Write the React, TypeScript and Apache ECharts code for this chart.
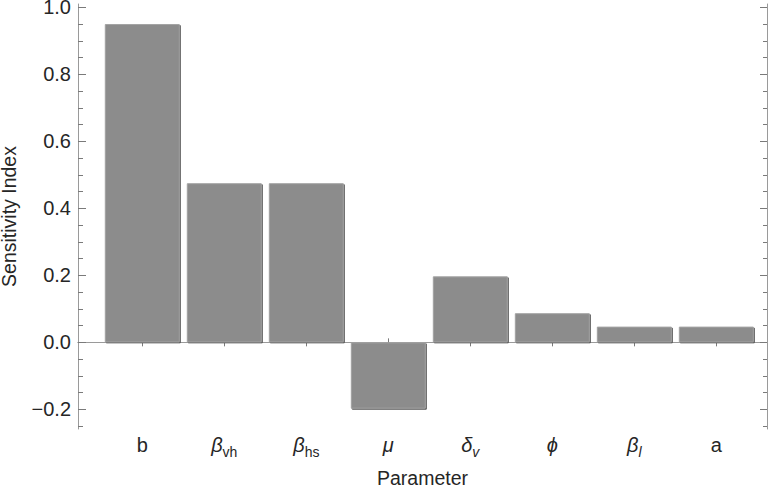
import React, { useEffect, useRef } from "react";
import * as echarts from "echarts";

// ---- data ----
const catMain = ["b", "β", "β", "μ", "δ", "ϕ", "β", "a"];
const catSub = ["", "vh", "hs", "", "v", "", "l", ""];
const catMainItalic = [false, true, true, true, true, true, true, false];
const catSubItalic = [false, false, false, false, true, false, true, false];
const values = [0.95, 0.475, 0.475, -0.198, 0.197, 0.087, 0.047, 0.047];
const yTickValues = [-0.2, 0, 0.2, 0.4, 0.6, 0.8, 1.0];
const yTickLabels = ["\u22120.2", "0.0", "0.2", "0.4", "0.6", "0.8", "1.0"];
const yMinorTicks = [
  -0.25, -0.15, -0.1, -0.05, 0.05, 0.1, 0.15, 0.25, 0.3, 0.35, 0.45, 0.5,
  0.55, 0.65, 0.7, 0.75, 0.85, 0.9, 0.95,
];
const Y_MIN = -0.2586;
const Y_MAX = 1.0098;
const X_MIN = 0.216;
const X_MAX = 8.618;

const FONT = "'Liberation Sans', Arial, sans-serif";
const LABEL_COLOR = "#262626";
const FRAME_COLOR = "#9a9a9a";
const TICK_COLOR = "#7a7a7a";

export default function App() {
  const ref = useRef<HTMLDivElement>(null);
  useEffect(() => {
    if (!ref.current) return;
    const chart = echarts.init(ref.current, undefined, { renderer: "svg" });
    const positions = values.map((_, i) => i + 1);
    const data = values.map((v, i) => [positions[i], v]);

    const xFormatter = (val: number) => {
      const i = Math.round(val) - 1;
      if (i < 0 || i >= catMain.length) return "";
      const m = `{${catMainItalic[i] ? "mi" : "m"}|${catMain[i]}}`;
      const s = catSub[i] ? `{${catSubItalic[i] ? "si" : "s"}|${catSub[i]}}` : "";
      return m + s;
    };
    const yFormatter = (val: number) => {
      const idx = yTickValues.findIndex((t) => Math.abs(t - val) < 1e-6);
      return idx >= 0 ? yTickLabels[idx] : "";
    };

    const mainStyle = {
      fontFamily: FONT,
      fontSize: 20,
      color: LABEL_COLOR,
      lineHeight: 24,
      verticalAlign: "top",
    };
    const subStyle = {
      fontFamily: FONT,
      fontSize: 14,
      color: LABEL_COLOR,
      lineHeight: 14,
      verticalAlign: "top",
      padding: [10, 0, 0, 0],
    };

    const option: any = {
      animation: false,
      backgroundColor: "#ffffff",
      grid: {
        left: 78,
        right: 1,
        top: 4,
        bottom: 62,
        containLabel: false,
        outerBoundsMode: "none",
      },
      xAxis: [
        {
          type: "value",
          position: "bottom",
          min: X_MIN,
          max: X_MAX,
          name: "Parameter",
          nameLocation: "middle",
          nameGap: 39,
          nameTextStyle: { fontFamily: FONT, fontSize: 19.5, color: LABEL_COLOR },
          axisLine: { show: true, lineStyle: { color: FRAME_COLOR, width: 1 } },
          axisTick: {
            show: true,
            inside: true,
            length: 4,
            customValues: positions,
            lineStyle: { color: TICK_COLOR },
          },
          axisLabel: {
            show: true,
            customValues: positions,
            margin: 6,
            formatter: xFormatter,
            rich: {
              m: { ...mainStyle },
              mi: { ...mainStyle, fontStyle: "italic" },
              s: { ...subStyle },
              si: { ...subStyle, fontStyle: "italic" },
            },
          },
          splitLine: { show: false },
        },
        {
          type: "value",
          position: "top",
          min: X_MIN,
          max: X_MAX,
          axisLine: { show: true, lineStyle: { color: FRAME_COLOR, width: 1 } },
          axisTick: {
            show: true,
            inside: true,
            length: 4,
            customValues: positions,
            lineStyle: { color: TICK_COLOR },
          },
          axisLabel: { show: false },
          splitLine: { show: false },
        },
      ],
      yAxis: [
        {
          type: "value",
          position: "left",
          min: Y_MIN,
          max: Y_MAX,
          name: "Sensitivity Index",
          nameLocation: "middle",
          nameGap: 59,
          nameTextStyle: { fontFamily: FONT, fontSize: 19.5, color: LABEL_COLOR },
          axisLine: { show: true, lineStyle: { color: FRAME_COLOR, width: 1 } },
          axisTick: {
            show: true,
            inside: true,
            length: 8,
            customValues: yTickValues,
            lineStyle: { color: TICK_COLOR },
          },
          axisLabel: {
            show: true,
            customValues: yTickValues,
            formatter: yFormatter,
            margin: 7,
            fontFamily: FONT,
            fontSize: 20,
            color: LABEL_COLOR,
          },
          splitLine: { show: false },
        },
        {
          type: "value",
          position: "right",
          min: Y_MIN,
          max: Y_MAX,
          axisLine: { show: true, lineStyle: { color: FRAME_COLOR, width: 1 } },
          axisTick: {
            show: true,
            inside: true,
            length: 7,
            customValues: yTickValues,
            lineStyle: { color: TICK_COLOR },
          },
          axisLabel: { show: false },
          splitLine: { show: false },
        },
        {
          type: "value",
          position: "left",
          min: Y_MIN,
          max: Y_MAX,
          axisLine: { show: false },
          axisTick: {
            show: true,
            inside: true,
            length: 5,
            customValues: yMinorTicks,
            lineStyle: { color: TICK_COLOR },
          },
          axisLabel: { show: false },
          splitLine: { show: false },
        },
        {
          type: "value",
          position: "right",
          min: Y_MIN,
          max: Y_MAX,
          axisLine: { show: false },
          axisTick: {
            show: true,
            inside: true,
            length: 4,
            customValues: yMinorTicks,
            lineStyle: { color: TICK_COLOR },
          },
          axisLabel: { show: false },
          splitLine: { show: false },
        },
      ],
      series: [
        {
          type: "bar",
          xAxisIndex: 0,
          yAxisIndex: 0,
          data,
          barWidth: 75,
          itemStyle: {
            color: "#8c8c8c",
            borderColor: "#a4a4a4",
            borderWidth: 1,
            shadowColor: "#5a5a5a",
            shadowBlur: 0,
            shadowOffsetX: 1,
            shadowOffsetY: 1,
          },
        },
      ],
    };
    chart.setOption(option);
    return () => chart.dispose();
  }, []);
  return <div ref={ref} style={{ width: 768, height: 491, position: "absolute", left: 0, top: 0 }} />;
}
